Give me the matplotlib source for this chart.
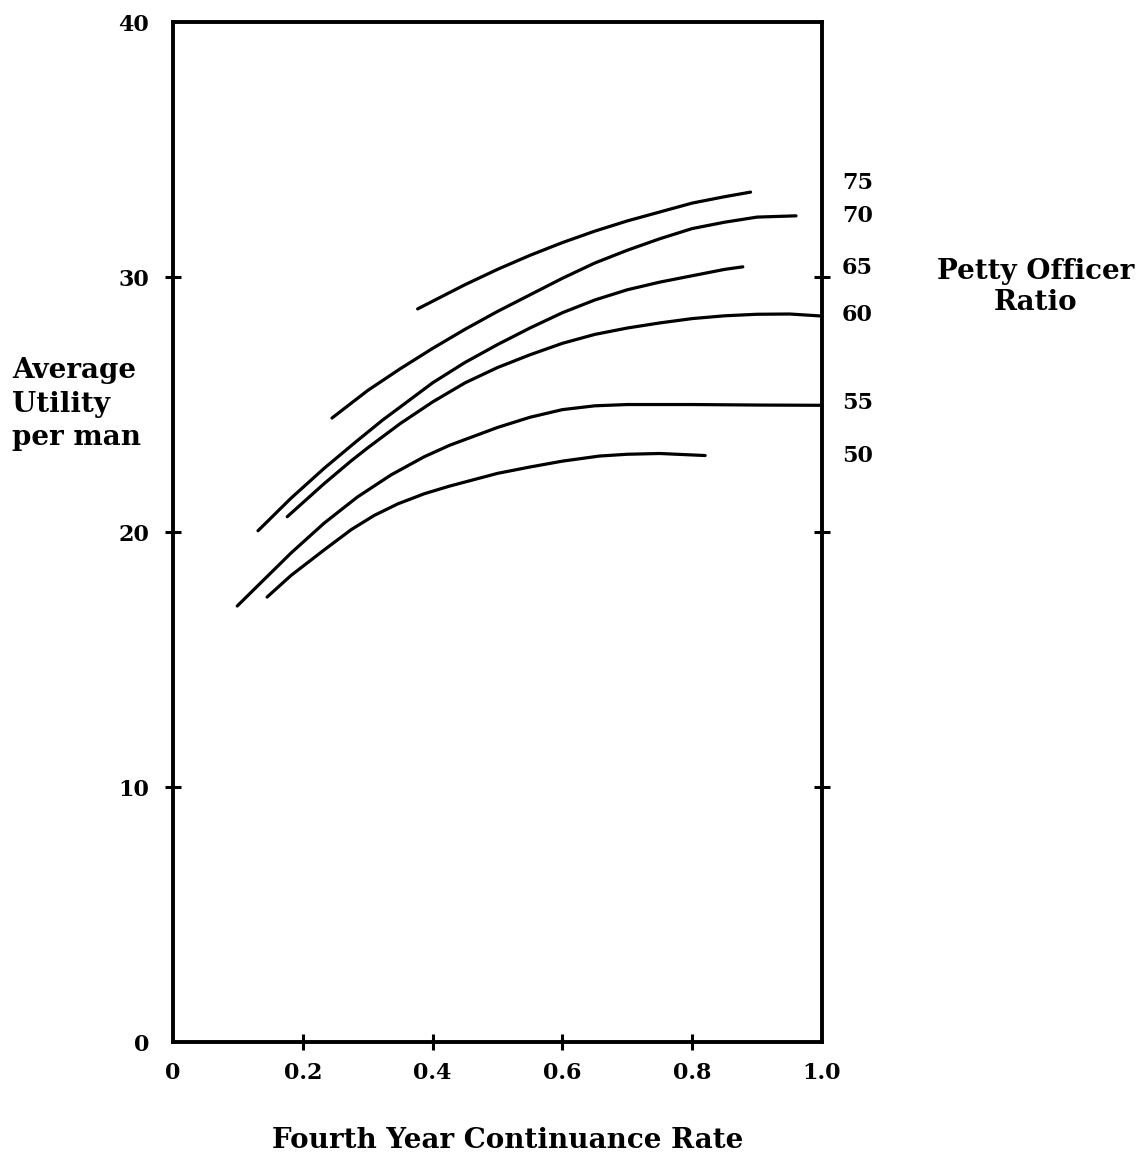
import matplotlib
matplotlib.use("Agg")
import matplotlib.pyplot as plt

# ---- data ----
ratios = ["75", "70", "65", "60", "55", "50"]

x75 = [0.377, 0.45, 0.50, 0.55, 0.60, 0.65, 0.70, 0.75, 0.80, 0.85, 0.89]
y75 = [28.75, 29.7, 30.3, 30.85, 31.35, 31.8, 32.2, 32.55, 32.9, 33.15, 33.33]

x70 = [0.245, 0.30, 0.35, 0.40, 0.45, 0.50, 0.55, 0.60, 0.65, 0.70, 0.75, 0.80, 0.85, 0.90, 0.96]
y70 = [24.47, 25.55, 26.4, 27.2, 27.95, 28.65, 29.3, 29.95, 30.55, 31.05, 31.5, 31.9, 32.15, 32.35, 32.4]

x65 = [0.131, 0.182, 0.233, 0.28, 0.323, 0.35, 0.40, 0.45, 0.50, 0.55, 0.60, 0.65, 0.70, 0.75, 0.80, 0.85, 0.878]
y65 = [20.05, 21.33, 22.5, 23.5, 24.39, 24.9, 25.85, 26.65, 27.35, 28.0, 28.6, 29.1, 29.5, 29.8, 30.05, 30.3, 30.4]

x60 = [0.176, 0.233, 0.275, 0.30, 0.35, 0.40, 0.45, 0.50, 0.55, 0.60, 0.65, 0.70, 0.75, 0.80, 0.85, 0.90, 0.95, 1.0]
y60 = [20.6, 21.9, 22.8, 23.3, 24.25, 25.1, 25.85, 26.45, 26.95, 27.4, 27.75, 28.0, 28.2, 28.37, 28.48, 28.54, 28.55, 28.47]

x55 = [0.099, 0.182, 0.233, 0.284, 0.336, 0.387, 0.426, 0.50, 0.55, 0.60, 0.65, 0.70, 0.80, 0.90, 1.0]
y55 = [17.1, 19.18, 20.35, 21.37, 22.24, 22.95, 23.4, 24.1, 24.5, 24.8, 24.95, 25.0, 25.0, 24.98, 24.97]

x50 = [0.145, 0.182, 0.233, 0.275, 0.31, 0.346, 0.387, 0.426, 0.50, 0.55, 0.60, 0.657, 0.70, 0.75, 0.82]
y50 = [17.45, 18.3, 19.3, 20.1, 20.65, 21.1, 21.5, 21.8, 22.3, 22.55, 22.78, 22.98, 23.05, 23.08, 23.0]

xticks = [0, 0.2, 0.4, 0.6, 0.8, 1.0]
xtick_labels = ["0", "0.2", "0.4", "0.6", "0.8", "1.0"]
yticks = [0, 10, 20, 30, 40]
ytick_labels = ["0", "10", "20", "30", "40"]

# ---- layout / style ----
label_y = [33.7, 32.4, 30.35, 28.5, 25.05, 23.0]
FONT = "DejaVu Serif"
FS = 16
FS_TITLE = 20

plt.rcParams["font.family"] = FONT
plt.rcParams["font.weight"] = "bold"

fig = plt.figure(figsize=(11.44, 11.59), dpi=100)
ax = fig.add_axes([0.1512, 0.1009, 0.5673, 0.8801])

series = [(x75, y75), (x70, y70), (x65, y65), (x60, y60), (x55, y55), (x50, y50)]
for xs, ys in series:
    ax.plot(xs, ys, color="black", lw=2.3, solid_capstyle="round",
            solid_joinstyle="round", clip_on=False)

ax.set_xlim(0, 1.0)
ax.set_ylim(0, 40)
for s in ax.spines.values():
    s.set_linewidth(2.8)

ax.set_xticks(xticks)
ax.set_xticklabels(xtick_labels)
ax.set_yticks(yticks)
ax.set_yticklabels(ytick_labels)
ax.tick_params(axis="both", direction="inout", length=12, width=2.2,
               labelsize=FS, colors="black")
ax.tick_params(axis="x", pad=8)
ax.tick_params(axis="y", pad=11, right=True)

for t in (ax.xaxis.get_major_ticks()[0], ax.xaxis.get_major_ticks()[-1]):
    t.tick1line.set_visible(False)
    t.tick2line.set_visible(False)
for t in (ax.yaxis.get_major_ticks()[0], ax.yaxis.get_major_ticks()[-1]):
    t.tick1line.set_visible(False)
    t.tick2line.set_visible(False)

for lab, yy in zip(ratios, label_y):
    ax.text(1.031, yy, lab, transform=ax.transData, ha="left", va="center",
            fontsize=FS, fontweight="bold", clip_on=False)

fig.text(12 / 1144, 1 - 404 / 1159, "Average\nUtility\nper man", ha="left",
         va="center", fontsize=FS_TITLE, fontweight="bold", linespacing=1.3)
fig.text(1036 / 1144, 1 - 287 / 1159, "Petty Officer\nRatio", ha="center",
         va="center", multialignment="center", fontsize=FS_TITLE,
         fontweight="bold", linespacing=1.2)
fig.text(508 / 1144, 1 - 1140 / 1159, "Fourth Year Continuance Rate",
         ha="center", va="center", fontsize=FS_TITLE, fontweight="bold")

fig.savefig("out.png", dpi=100, facecolor="white")
